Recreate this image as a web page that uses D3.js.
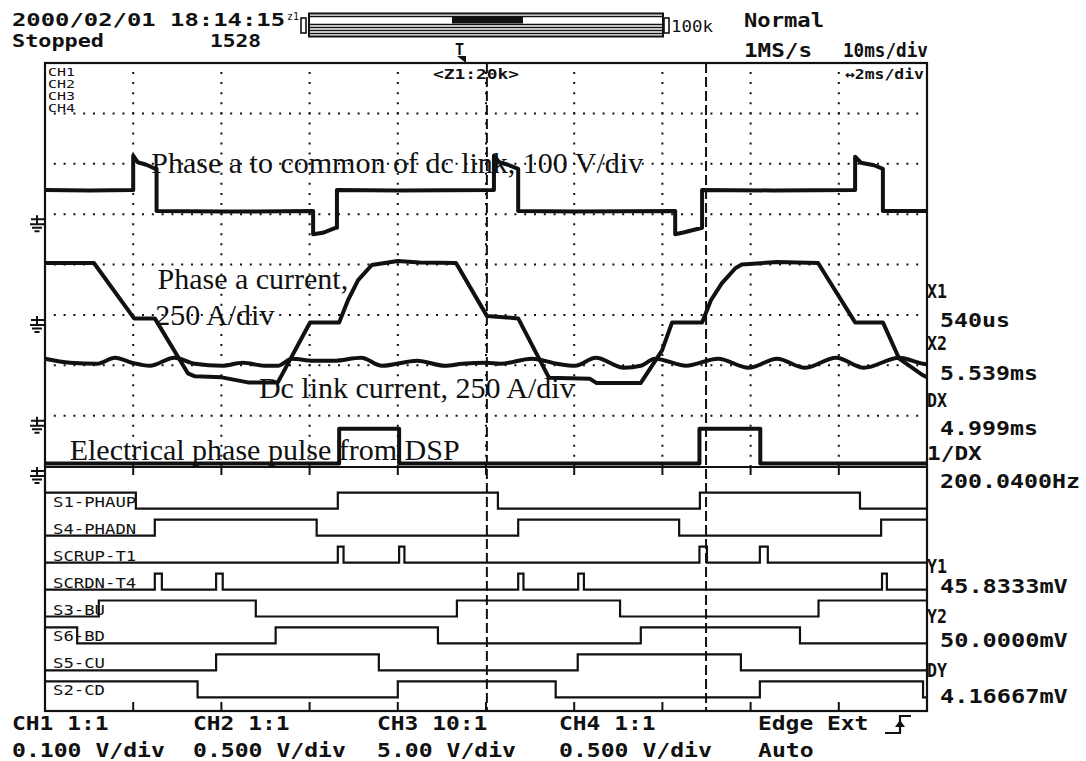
<!DOCTYPE html>
<html><head><meta charset="utf-8">
<script src="https://cdn.jsdelivr.net/npm/d3@7"></script>
<style>
html,body{margin:0;padding:0;background:#fff;}
svg{display:block;}
.mono{font-family:"DejaVu Sans Mono",monospace;font-weight:bold;fill:#111;}
.monoN{font-family:"DejaVu Sans Mono",monospace;font-weight:normal;fill:#111;}
.serif{font-family:"Liberation Serif","Times New Roman",serif;fill:#111;}
</style></head><body>
<svg id="c" width="1086" height="761"></svg>
<script>
// ---------------- DATA ----------------
const timeDomain = [0, 20];                 // ms, 2 ms/div zoom window
const gridTimes = [2, 4, 6, 8, 10, 12, 14, 16, 18];
const gridRows = [1, 2, 3, 4, 5, 6, 7];     // analog divisions from top
const cursorTimes = [10.02, 14.99];

// ground rows (divisions from top) of the four analog channels
const groundRows = [3, 5, 7, 8];

// CH1: phase a to common of dc link (div above ground)
const ch1 = [[0,0.48],[1.0,0.47],[2.0,0.48],[2.0,1.16],[2.1,1.03],[2.3,0.98],[2.5,0.9],[2.53,0.9],[2.53,0.06],[4.0,0.05],[6.08,0.06],
  [6.08,-0.4],[6.3,-0.37],[6.6,-0.27],[6.62,-0.27],[6.62,0.48],[8.0,0.47],[10.18,0.48],[10.18,1.16],[10.3,1.03],[10.5,0.98],[10.73,0.9],
  [10.73,0.06],[12.0,0.05],[14.29,0.06],[14.29,-0.4],[14.5,-0.36],[14.9,-0.27],[14.9,0.48],[16.5,0.47],[18.37,0.48],[18.37,1.14],
  [18.5,1.02],[18.8,0.97],[19.0,0.9],[19.0,0.06],[20,0.06]];

// CH2: phase a current (div above ground)
const ch2 = [[0,1.03],[1.11,1.03],[2.02,-0.07],[2.49,-0.07],[3.24,-1.16],[3.4,-1.22],[4.01,-1.24],[4.6,-1.34],[5.28,-1.34],[6.01,-0.15],
  [6.67,-0.15],[6.87,0.29],[7.1,0.69],[7.41,0.99],[8.0,1.07],[8.5,1.04],[9.32,1.03],[10.02,-0.02],[10.73,-0.07],[11.43,-1.25],
  [12.36,-1.27],[12.5,-1.35],[13.51,-1.35],[13.99,-0.71],[14.22,-0.15],[14.9,-0.15],[15.1,0.29],[15.35,0.63],[15.66,0.93],
  [15.8,1.0],[16.6,1.05],[17.53,1.03],[18.37,-0.15],[19.0,-0.15],[19.37,-0.87],[19.91,-1.2],[20,-1.24]];

// CH3: dc link current (div above ground)
const ch3 = [[0,1.13],[0.57,1.05],[1.18,1.03],[1.59,1.15],[1.97,1.05],[2.38,0.99],[2.93,1.15],[3.4,1.03],[4.01,0.99],[4.49,1.05],
  [4.97,0.99],[5.28,0.99],[5.6,1.13],[6.08,1.09],[6.55,1.09],[7.17,1.15],[7.64,0.99],[8.44,1.09],[9.07,0.99],[9.46,1.03],
  [10.02,1.05],[10.32,1.03],[11.04,1.13],[11.61,1.03],[12.02,0.99],[12.49,1.15],[13.13,0.95],[13.51,0.99],[13.83,1.13],
  [14.54,0.99],[15.26,1.13],[15.96,0.95],[16.6,1.13],[17.23,0.95],[17.94,1.15],[18.57,0.95],[19.37,1.15],[19.91,1.03],[20,1.02]];

// CH4: electrical phase pulse from DSP (div above ground)
const ch4 = [[0,0.05],[6.67,0.05],[6.67,0.74],[8.03,0.74],[8.03,0.05],[14.84,0.05],[14.84,0.74],[16.22,0.74],[16.22,0.05],[20,0.05]];

// logic channels: name, initial level, edge times (ms)
const digNames = ["S1-PHAUP","S4-PHADN","SCRUP-T1","SCRDN-T4","S3-BU","S6-BD","S5-CU","S2-CD"];
const digInit  = [1,0,0,0,0,1,0,1];
const digEdges = [
  [2.06,6.64,10.27,14.85,18.48],
  [2.49,6.16,10.73,14.38,18.96],
  [6.64,6.77,8.03,8.15,14.84,15.01,16.21,16.39],
  [2.49,2.65,3.88,4.03,10.73,10.85,12.09,12.22,18.98,19.09],
  [1.22,4.78,9.34,13.04,17.54],
  [0.73,5.23,8.91,13.51,17.12],
  [3.88,7.57,12.08,15.78],
  [3.46,8.0,11.58,16.21,19.91]
];

// annotation texts
const annotations = [
  {t:"Phase a to common of dc link, 100 V/div", tm:2.41, row:2.18},
  {t:"Phase a current,", tm:2.55, row:4.49},
  {t:"250 A/div", tm:2.5, row:5.2},
  {t:"Dc link current, 250 A/div", tm:4.85, row:6.65},
  {t:"Electrical phase pulse from DSP", tm:0.56, row:7.88}
];

const headerTexts = [
  {t:"2000/02/01 18:14:15", x:12, y:26, fs:18, tl:273},
  {t:"Stopped", x:12, y:47, fs:18, tl:92},
  {t:"1528", x:210, y:47, fs:18, tl:51},
  {t:"Normal", x:744, y:27, fs:19, tl:80},
  {t:"1MS/s", x:744, y:57, fs:19, tl:68},
  {t:"10ms/div", x:843, y:57, fs:19, tl:85}
];
const channelTags = ["CH1","CH2","CH3","CH4"];
const readoutLabels = [["X1","540us"],["X2","5.539ms"],["DX","4.999ms"],["1/DX","200.0400Hz"]];
const readoutLabels2 = [["Y1","45.8333mV"],["Y2","50.0000mV"],["DY","4.16667mV"]];
const bottomTexts = [
  ["CH1 1:1","0.100 V/div"],["CH2 1:1","0.500 V/div"],["CH3 10:1","5.00 V/div"],["CH4 1:1","0.500 V/div"],["Edge Ext","Auto"]
];
const bottomX = [12, 193, 377, 559, 758];

// ---------------- DRAW ----------------
const svg = d3.select('#c');
const L = 45, R = 927, T = 63, SEP = 466, B = 711;
const x = d3.scaleLinear().domain(timeDomain).range([L, R]);
const rowY = d3.scaleLinear().domain([0, 8]).range([T, SEP]);
const chScale = g => d3.scaleLinear().domain([g - 8, g]).range([SEP, T]);

svg.append('rect').attr('width',1086).attr('height',761).attr('fill','#fff');

// grid (analog part)
const grid = svg.append('g').attr('stroke','#111').attr('stroke-width',2);
gridTimes.forEach(t => {
  grid.append('line').attr('x1',x(t)).attr('x2',x(t)).attr('y1',T).attr('y2',SEP)
    .attr('stroke-dasharray','2,8.075').attr('stroke-dashoffset',-9);
});
gridRows.forEach(r => {
  grid.append('line').attr('x1',L).attr('x2',R).attr('y1',rowY(r)).attr('y2',rowY(r))
    .attr('stroke-dasharray','2,7.8').attr('stroke-dashoffset',-8.8);
});

// ticks in digital part
gridTimes.forEach(t => {
  grid.append('line').attr('x1',x(t)).attr('x2',x(t)).attr('y1',SEP).attr('y2',SEP+9);
  grid.append('line').attr('x1',x(t)).attr('x2',x(t)).attr('y1',B-9).attr('y2',B);
});

// analog traces
const traces = [ch1, ch2, ch3, ch4];
const curves = [d3.curveLinear, d3.curveLinear, d3.curveMonotoneX, d3.curveLinear];
traces.forEach((d, i) => {
  const ys = chScale(groundRows[i]);
  const line = d3.line().curve(curves[i]).x(p => x(p[0])).y(p => ys(p[1]));
  svg.append('path').attr('d', line(d)).attr('fill','none').attr('stroke','#111')
    .attr('stroke-width', 4).attr('stroke-linejoin','round');
});

// digital traces
const dy = d3.scalePoint().domain(digNames).range([508.7, 697.35]);
const lvl = d3.scaleLinear().domain([0, 1]).range([0, -16]);
digNames.forEach((n, i) => {
  let v = digInit[i];
  const pts = [[timeDomain[0], v]];
  digEdges[i].forEach(t => { v = 1 - v; pts.push([t, v]); });
  pts.push([timeDomain[1], v]);
  const line = d3.line().curve(d3.curveStepAfter).x(p => x(p[0])).y(p => dy(n) + lvl(p[1]));
  svg.append('path').attr('d', line(pts)).attr('fill','none').attr('stroke','#111').attr('stroke-width',2.2);
  svg.append('text').attr('class','monoN').attr('x',53).attr('y',dy(n) - 2)
    .attr('font-size',14).attr('font-weight',600).attr('textLength', n.length * 10.4)
    .attr('lengthAdjust','spacingAndGlyphs').text(n);
});

// frame
svg.append('rect').attr('x',L).attr('y',T).attr('width',R-L).attr('height',B-T)
  .attr('fill','none').attr('stroke','#111').attr('stroke-width',2.2);
svg.append('line').attr('x1',L).attr('x2',R).attr('y1',SEP+1).attr('y2',SEP+1).attr('stroke','#111').attr('stroke-width',2);

// cursors
cursorTimes.forEach(t => {
  svg.append('line').attr('x1',x(t)).attr('x2',x(t)).attr('y1',T).attr('y2',B)
    .attr('stroke','#111').attr('stroke-width',2).attr('stroke-dasharray','10,4');
});

// ground markers
groundRows.forEach(g => {
  const gy = rowY(g);
  const p = d3.path();
  p.moveTo(31, gy+5); p.lineTo(L, gy+5);
  p.moveTo(37, gy+1); p.lineTo(37, gy+10);
  p.moveTo(30, gy+10); p.lineTo(44, gy+10);
  p.moveTo(32, gy+13.5); p.lineTo(42, gy+13.5);
  p.moveTo(34.5, gy+17); p.lineTo(39.5, gy+17);
  svg.append('path').attr('d', p.toString()).attr('stroke','#111').attr('stroke-width',2).attr('fill','none');
});

// channel labels top-left
channelTags.forEach((c, i) => {
  svg.append('text').attr('class','monoN').attr('x',48).attr('y',[75.5,87.5,99.5,111.5][i])
    .attr('font-size',10.5).attr('textLength',27).attr('lengthAdjust','spacingAndGlyphs').text(c);
});
svg.append('text').attr('class','mono').attr('x',433).attr('y',79).attr('font-size',14)
  .attr('textLength',86).attr('lengthAdjust','spacingAndGlyphs').text('<Z1:20k>');
svg.append('text').attr('class','mono').attr('x',845).attr('y',79).attr('font-size',14)
  .attr('textLength',79).attr('lengthAdjust','spacingAndGlyphs').text('\u21942ms/div');

// header texts
headerTexts.forEach(h => {
  svg.append('text').attr('class','mono').attr('x',h.x).attr('y',h.y).attr('font-size',h.fs)
    .attr('textLength',h.tl).attr('lengthAdjust','spacingAndGlyphs').text(h.t);
});
svg.append('text').attr('class','monoN').attr('x',287).attr('y',20).attr('font-size',10).text('z1');
svg.append('text').attr('class','monoN').attr('x',671).attr('y',32).attr('font-size',16)
  .attr('textLength',42).attr('lengthAdjust','spacingAndGlyphs').text('100k');

// memory bar
const bar = svg.append('g').attr('stroke','#111').attr('fill','none');
bar.append('rect').attr('x',301).attr('y',18).attr('width',5).attr('height',15).attr('stroke-width',1.6);
bar.append('rect').attr('x',664).attr('y',18).attr('width',5).attr('height',15).attr('stroke-width',1.6);
bar.append('rect').attr('x',309).attr('y',13.5).attr('width',354).attr('height',23).attr('stroke-width',2);
[16.5, 24.5, 27.5, 30.5, 33.5].forEach(yy => bar.append('line').attr('x1',309).attr('x2',663).attr('y1',yy).attr('y2',yy).attr('stroke-width',1.5));
bar.append('rect').attr('x',452).attr('y',16.5).attr('width',71).attr('height',7).attr('fill','#111').attr('stroke','none');

// trigger marker
svg.append('text').attr('class','mono').attr('x',455).attr('y',55).attr('font-size',15).text('T');
svg.append('path').attr('d','M457,56 L466,56 L466,63 Z').attr('fill','#111');

// annotations
annotations.forEach(a => {
  svg.append('text').attr('class','serif').attr('x',x(a.tm)).attr('y',rowY(a.row))
    .attr('font-size',30).text(a.t);
});

// right readouts
const rx1 = 927, rx2 = 940;
const ry = [298, 327, 350, 380, 407, 435, 460, 488];
readoutLabels.forEach((r, i) => {
  svg.append('text').attr('class','mono').attr('x',rx1).attr('y',ry[2*i]).attr('font-size',20)
    .attr('textLength', r[0].length > 2 ? r[0].length*13.7 : 20).attr('lengthAdjust','spacingAndGlyphs').text(r[0]);
  svg.append('text').attr('class','mono').attr('x',rx2).attr('y',ry[2*i+1]).attr('font-size',20)
    .attr('textLength', r[1].length*14).attr('lengthAdjust','spacingAndGlyphs').text(r[1]);
});
const ry2 = [573, 593, 623, 647, 677, 703];
readoutLabels2.forEach((r, i) => {
  svg.append('text').attr('class','mono').attr('x',rx1).attr('y',ry2[2*i]).attr('font-size',20)
    .attr('textLength',20).attr('lengthAdjust','spacingAndGlyphs').text(r[0]);
  svg.append('text').attr('class','mono').attr('x',rx2).attr('y',ry2[2*i+1]).attr('font-size',20)
    .attr('textLength', r[1].length*14.2).attr('lengthAdjust','spacingAndGlyphs').text(r[1]);
});

// bottom texts
bottomTexts.forEach((b, i) => {
  svg.append('text').attr('class','mono').attr('x',bottomX[i]).attr('y',730).attr('font-size',20)
    .attr('textLength', b[0].length*13.8).attr('lengthAdjust','spacingAndGlyphs').text(b[0]);
  svg.append('text').attr('class','mono').attr('x',bottomX[i]).attr('y',757).attr('font-size',20)
    .attr('textLength', b[1].length*13.9).attr('lengthAdjust','spacingAndGlyphs').text(b[1]);
});
// trigger edge symbol
svg.append('path').attr('d','M885,733 L900,733 L900,716 L911,716').attr('stroke','#111').attr('stroke-width',2.2).attr('fill','none');
svg.append('path').attr('d','M895,727 L900,720 L905,727 Z').attr('fill','#111');
</script>
</body></html>
